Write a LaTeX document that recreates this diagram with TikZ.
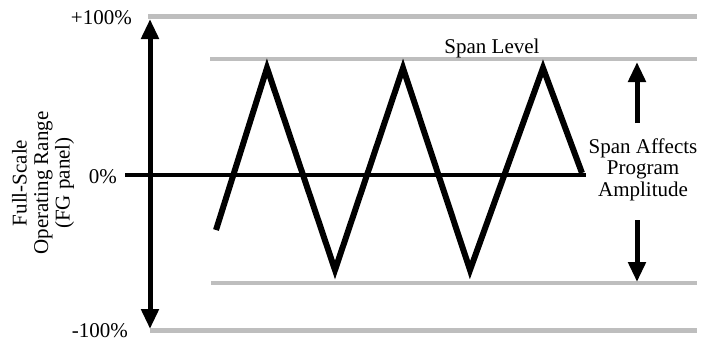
\documentclass[tikz,border=0pt]{standalone}
\usepackage{fontspec}
\setmainfont{Liberation Serif}
\usetikzlibrary{arrows.meta}
\definecolor{levelgray}{RGB}{190,190,190}
\begin{document}
\begin{tikzpicture}[x=1pt,y=-1pt,font=\fontsize{21}{21.5}\selectfont, line cap=butt,line join=miter,>={Triangle[length=20pt,width=17pt]}]
\useasboundingbox (0,0) rectangle (705,341);
\draw[levelgray, line width=5pt] (148,16.5) -- (697,16.5);
\draw[levelgray, line width=4pt] (210,59) -- (697,59);
\draw[levelgray, line width=4pt] (211,283) -- (697,283);
\draw[levelgray, line width=5pt] (150,330.5) -- (697,330.5);
\draw[line width=4pt] (125,175) -- (586,175);
\draw[line width=6pt] (216,230) -- (267,68) -- (335,270) -- (403,68) -- (470,270) -- (543,68) -- (582,173);
\draw[<->, line width=5pt] (150,19) -- (150,329);
\draw[->, line width=5pt] (637,123) -- (637,62);
\draw[->, line width=5pt] (637,220) -- (637,282);
\node[anchor=base east, inner sep=0pt] (plus) at (132,24) {+100\%};
\node[anchor=base east, inner sep=0pt] (zero) at (117,183) {0\%};
\node[anchor=base east, inner sep=0pt] (minus) at (128,337.5) {-100\%};
\node[anchor=base, inner sep=0pt] (level) at (492,53) {Span Level};
\node[align=center, inner sep=0pt] (span) at (643,169.6) {Span Affects\\Program\\Amplitude};
\node[rotate=90, align=center, inner sep=0pt] (range) at (43,183) {Full-Scale\\Operating Range\\(FG panel)};
\end{tikzpicture}
\end{document}
